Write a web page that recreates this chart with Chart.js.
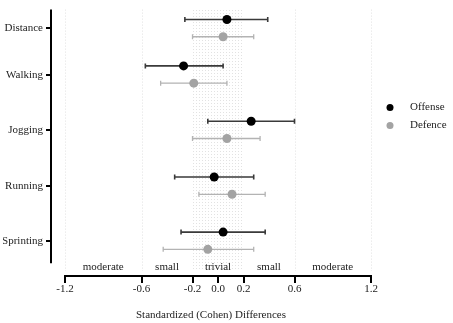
<!DOCTYPE html>
<html>
<head>
<meta charset="utf-8">
<script src="https://cdn.jsdelivr.net/npm/chart.js@4.4.1/dist/chart.umd.min.js"></script>
<style>
  html, body { margin: 0; padding: 0; background: #fff; }
</style>
</head>
<body>
<canvas id="chart" width="453" height="323"></canvas>
<script>
// Effect sizes (Cohen's d) with 90% CI, offense vs defence
const activities = ['Distance', 'Walking', 'Jogging', 'Running', 'Sprinting'];
const rowPos = [0.74, 2.57, 4.75, 6.95, 9.12];   // row centres on the hidden y scale
const offenseMean = [0.07, -0.27, 0.26, -0.03, 0.04];
const offenseLow  = [-0.26, -0.57, -0.08, -0.34, -0.29];
const offenseHigh = [0.39, 0.04, 0.60, 0.28, 0.37];
const defenceMean = [0.04, -0.19, 0.07, 0.11, -0.08];
const defenceLow  = [-0.20, -0.45, -0.20, -0.15, -0.43];
const defenceHigh = [0.28, 0.07, 0.33, 0.37, 0.28];
const xTicks = [-1.2, -0.6, -0.2, 0, 0.2, 0.6, 1.2];
const zoneEdges = [-1.2, -0.6, -0.2, 0.2, 0.6, 1.2];
const zoneNames = ['moderate', 'small', 'trivial', 'small', 'moderate'];

const SERIF = '"Liberation Serif", "Times New Roman", serif';
const OFF_SHIFT = -0.35;
const DEF_SHIFT = 0.33;

const series = [
  { label: 'Offense', mean: offenseMean, low: offenseLow, high: offenseHigh, shift: OFF_SHIFT, dot: '#000000', bar: '#3a3a3a', width: 1.6 },
  { label: 'Defence', mean: defenceMean, low: defenceLow, high: defenceHigh, shift: DEF_SHIFT, dot: '#a3a3a3', bar: '#b3b3b3', width: 1.3 },
];

// stipple pattern for the trivial band
function makeDots() {
  const p = document.createElement('canvas');
  p.width = 3; p.height = 3;
  const g = p.getContext('2d');
  g.fillStyle = '#e2e2e2';
  g.fillRect(1, 1, 1, 1);
  return p;
}

const backdrop = {
  id: 'backdrop',
  beforeDatasetsDraw(chart) {
    const { ctx, chartArea, scales: { x, y } } = chart;
    const top = chartArea.top;
    const bottom = chartArea.bottom - 5;
    ctx.save();
    // trivial band
    ctx.fillStyle = ctx.createPattern(makeDots(), 'repeat');
    const l = x.getPixelForValue(-0.2), r = x.getPixelForValue(0.2);
    ctx.fillRect(l, top, r - l, bottom - top);
    // dotted guide lines
    ctx.strokeStyle = '#e0e0e0';
    ctx.lineWidth = 1;
    ctx.setLineDash([1, 2]);
    [-1.2, -0.6, 0.6, 1.2].forEach(v => {
      const px = Math.round(x.getPixelForValue(v)) + 0.5;
      ctx.beginPath();
      ctx.moveTo(px, top);
      ctx.lineTo(px, bottom);
      ctx.stroke();
    });
    ctx.setLineDash([]);
    // error bars
    series.forEach(s => {
      ctx.strokeStyle = s.bar;
      ctx.lineWidth = s.width;
      activities.forEach((a, i) => {
        const py = y.getPixelForValue(rowPos[i] + s.shift);
        const x0 = x.getPixelForValue(s.low[i]);
        const x1 = x.getPixelForValue(s.high[i]);
        ctx.beginPath();
        ctx.moveTo(x0, py); ctx.lineTo(x1, py);
        ctx.moveTo(x0, py - 2.5); ctx.lineTo(x0, py + 2.5);
        ctx.moveTo(x1, py - 2.5); ctx.lineTo(x1, py + 2.5);
        ctx.stroke();
      });
    });
    ctx.restore();
  },
  afterDraw(chart) {
    const { ctx, chartArea, scales: { x, y } } = chart;
    ctx.save();
    // axis lines (offset, prism style)
    ctx.strokeStyle = '#000';
    ctx.lineWidth = 2;
    ctx.beginPath();
    ctx.moveTo(chartArea.left, y.getPixelForValue(0));
    ctx.lineTo(chartArea.left, y.getPixelForValue(10));
    ctx.moveTo(x.getPixelForValue(-1.2) - 1, chartArea.bottom);
    ctx.lineTo(x.getPixelForValue(1.2) + 1, chartArea.bottom);
    ctx.stroke();
    // zone names
    ctx.fillStyle = '#222';
    ctx.font = '11px ' + SERIF;
    ctx.textAlign = 'center';
    ctx.textBaseline = 'middle';
    zoneNames.forEach((n, i) => {
      const mid = (zoneEdges[i] + zoneEdges[i + 1]) / 2;
      ctx.fillText(n, x.getPixelForValue(mid), chartArea.bottom - 9);
    });
    // legend
    ctx.textAlign = 'left';
    series.forEach((s, i) => {
      const ly = chartArea.top + 98 + i * 18;
      ctx.fillStyle = s.dot;
      ctx.beginPath();
      ctx.arc(chartArea.right + 19, ly, 3.5, 0, Math.PI * 2);
      ctx.fill();
      ctx.fillStyle = '#222';
      ctx.fillText(s.label, chartArea.right + 39, ly);
    });
    ctx.restore();
  }
};

new Chart(document.getElementById('chart'), {
  type: 'scatter',
  data: {
    datasets: series.map(s => ({
      label: s.label,
      data: s.mean.map((m, i) => ({ x: m, y: rowPos[i] + s.shift })),
      pointRadius: 4.5,
      pointBackgroundColor: s.dot,
      pointBorderWidth: 0,
    }))
  },
  options: {
    responsive: false,
    animation: false,
    devicePixelRatio: 1,
    layout: { padding: { left: 3, right: 82, top: 6, bottom: 0 } },
    plugins: {
      legend: { display: false },
      tooltip: { enabled: false },
    },
    scales: {
      x: {
        type: 'linear',
        min: -1.31,
        max: 1.2,
        bounds: 'data',
        afterBuildTicks: s => { s.ticks = xTicks.map(v => ({ value: v })); },
        afterFit: s => { s.height = 47; },
        ticks: {
          callback: v => v.toFixed(1),
          font: { family: SERIF, size: 11 },
          color: '#222',
          padding: 0,
          maxRotation: 0,
          autoSkip: false,
        },
        grid: { drawOnChartArea: false, tickLength: 7, color: '#000', lineWidth: 2 },
        border: { display: false },
        title: {
          display: true,
          text: 'Standardized (Cohen) Differences',
          font: { family: SERIF, size: 11 },
          color: '#222',
          padding: { top: 0, bottom: 1 },
        },
      },
      y: {
        type: 'linear',
        reverse: true,
        min: 0,
        max: 10.5,
        afterBuildTicks: s => { s.ticks = rowPos.map(v => ({ value: v })); },
        afterFit: s => { s.width = 48; },
        ticks: {
          callback: (v, i) => activities[i],
          font: { family: SERIF, size: 11 },
          color: '#222',
          padding: 3,
          autoSkip: false,
        },
        grid: { drawOnChartArea: false, tickLength: 5, color: '#000', lineWidth: 2 },
        border: { display: false },
      },
    },
  },
  plugins: [backdrop],
});
</script>
</body>
</html>
